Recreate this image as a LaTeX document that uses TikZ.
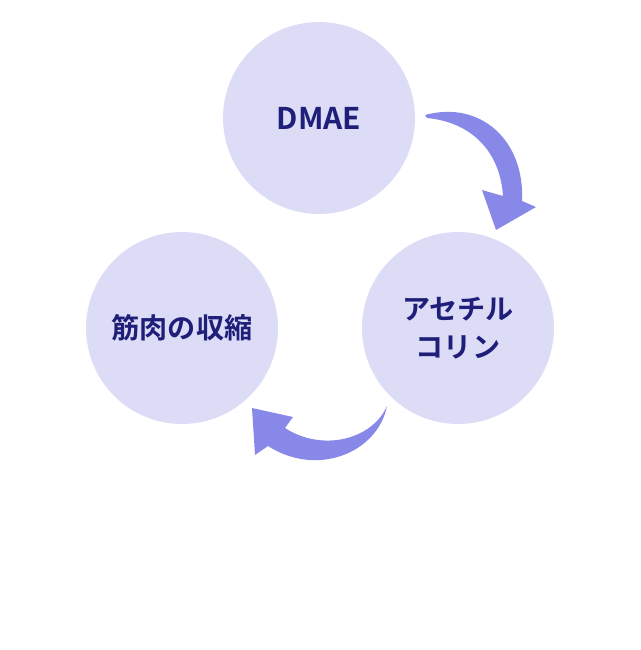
\documentclass[tikz,border=0pt]{standalone}
\usepackage{fontspec}
\newfontfamily\jp{Noto Sans CJK JP Bold}
\definecolor{cfill}{HTML}{DCDCF7}
\definecolor{afill}{HTML}{8888E8}
\definecolor{tcol}{HTML}{1F1F7A}
\begin{document}
\begin{tikzpicture}[x=0.02cm,y=-0.02cm,
  bub/.style={circle,fill=cfill,minimum size=3.84cm,inner sep=0pt,align=center,text=tcol,font=\jp\fontsize{16}{22}\selectfont},
  arr/.style={fill=afill,draw=none}]
\useasboundingbox (0,0) rectangle (640,650);
\node[bub] (dmae) at (319,118) {\fontsize{17}{20}\selectfont DMAE};
\node[bub] (ach) at (458,328) {アセチル\\コリン};
\node[bub] (mus) at (182,328) {筋肉の収縮};
\coordinate (a1) at (425,115);
\coordinate (a2) at (387,406);
\fill[arr] (a1) .. controls (480,100) and (525,140) .. (522,201) -- (536,207) -- (496,230) -- (482,190) -- (503,196) .. controls (500,150) and (470,122) .. (427,118) -- cycle;
\fill[arr] (a2) .. controls (378,452) and (318,478) .. (268,446) -- (255,455) -- (252,408) -- (293,417) -- (285,428) .. controls (322,452) and (372,440) .. (a2) -- cycle;
\end{tikzpicture}
\end{document}
